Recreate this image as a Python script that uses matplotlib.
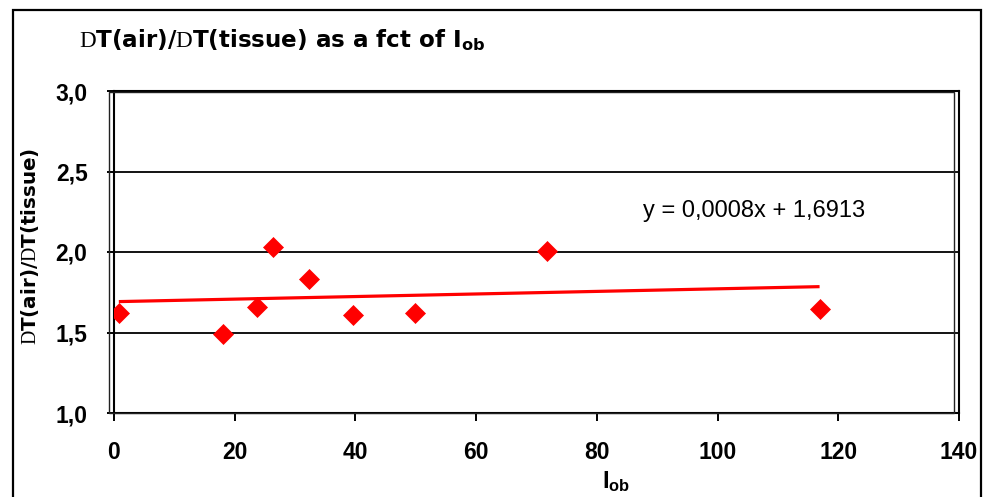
import matplotlib
matplotlib.use("Agg")
import matplotlib.pyplot as plt
from matplotlib.patches import Rectangle
import numpy as np

# ---- data ----
i_ob = [0.8, 18.1, 23.7, 26.3, 32.3, 39.6, 49.9, 71.8, 116.9]
ratio = [1.619, 1.489, 1.660, 2.033, 1.834, 1.611, 1.623, 2.008, 1.646]
slope = 0.0008
intercept = 1.6913
x_ticks = [0, 20, 40, 60, 80, 100, 120, 140]
y_ticks = [1.0, 1.5, 2.0, 2.5, 3.0]
y_tick_labels = ["1,0", "1,5", "2,0", "2,5", "3,0"]
equation_label = "y = 0,0008x + 1,6913"

plt.rcParams['font.family'] = ['Liberation Sans', 'DejaVu Sans']
plt.rcParams['mathtext.fontset'] = 'custom'
plt.rcParams['mathtext.rm'] = 'Liberation Serif'
plt.rcParams['mathtext.bf'] = 'Liberation Sans:bold'
plt.rcParams['mathtext.sf'] = 'DejaVu Sans:bold'
plt.rcParams['mathtext.it'] = 'Liberation Sans:italic'

W, H = 983, 497
fig = plt.figure(figsize=(W / 100, H / 100), dpi=100)
fig.patch.set_facecolor('white')

def fx(px):
    return px / W

def fy(py):
    return 1 - py / H

# axes: x 0..140 -> px 114..959 ; y 1..3 -> py 413..91
ax = fig.add_axes([fx(114), fy(413), fx(959) - fx(114), fy(91) - fy(413)])
ax.set_xlim(0, 140)
ax.set_ylim(1.0, 3.0)
ax.set_xticks(x_ticks)
ax.set_xticklabels([str(t) for t in x_ticks])
ax.set_yticks(y_ticks)
ax.set_yticklabels(y_tick_labels)
for s in ax.spines.values():
    s.set_linewidth(1.5)
    s.set_color('black')
ax.tick_params(axis='both', direction='out', width=1.4, colors='black',
               labelsize=16.5)
ax.tick_params(axis='y', length=5, pad=14)
ax.tick_params(axis='x', length=5.5, pad=15)
for lab in ax.get_xticklabels() + ax.get_yticklabels():
    lab.set_fontweight('bold')

for yv in y_ticks[1:-1]:
    ax.axhline(yv, color='black', lw=1.3, zorder=1)

# trend line
xs = np.array([min(i_ob), max(i_ob)])
ax.plot(xs, slope * xs + intercept, color='#ff0000', lw=2.3, zorder=2,
        solid_capstyle='butt')
# points
ax.plot(i_ob, ratio, linestyle='none', marker='D', markersize=9.8,
        markerfacecolor='#ff0000', markeredgecolor='#ff0000',
        markeredgewidth=0.5, zorder=3)

ax.text(fx(643), fy(217.5), equation_label, transform=fig.transFigure,
        fontsize=17, ha='left', va='baseline', color='black')

# plot area border (offset rectangle)
fig.patches.append(Rectangle((fx(108.5), fy(412.5)), fx(953.5) - fx(108.5),
                             fy(91.5) - fy(412.5), transform=fig.transFigure,
                             fill=False, edgecolor='#222222', lw=1.0))
# outer chart border
fig.patches.append(Rectangle((fx(13), fy(520)), fx(981) - fx(13),
                             fy(10) - fy(520), transform=fig.transFigure,
                             fill=False, edgecolor='black', lw=1.6))

# title
fig.text(fx(79), fy(47.5),
         r"$\mathrm{D}$T(air)/$\mathrm{D}$T(tissue) as a fct of I$_{\mathsf{ob}}$",
         fontsize=16.6, fontweight='bold', family='DejaVu Sans',
         ha='left', va='baseline')
# y label
fig.text(fx(36), fy(246.5), r"$\mathrm{D}$T(air)/$\mathrm{D}$T(tissue)",
         fontsize=14.3, fontweight='bold', family='DejaVu Sans', rotation=90,
         ha='center', va='baseline', rotation_mode='anchor')
# x label
fig.text(fx(616), fy(488), r"I$_{\mathbf{ob}}$", fontsize=17, fontweight='bold',
         ha='center', va='baseline')

fig.savefig('out.png', dpi=100, facecolor='white')
